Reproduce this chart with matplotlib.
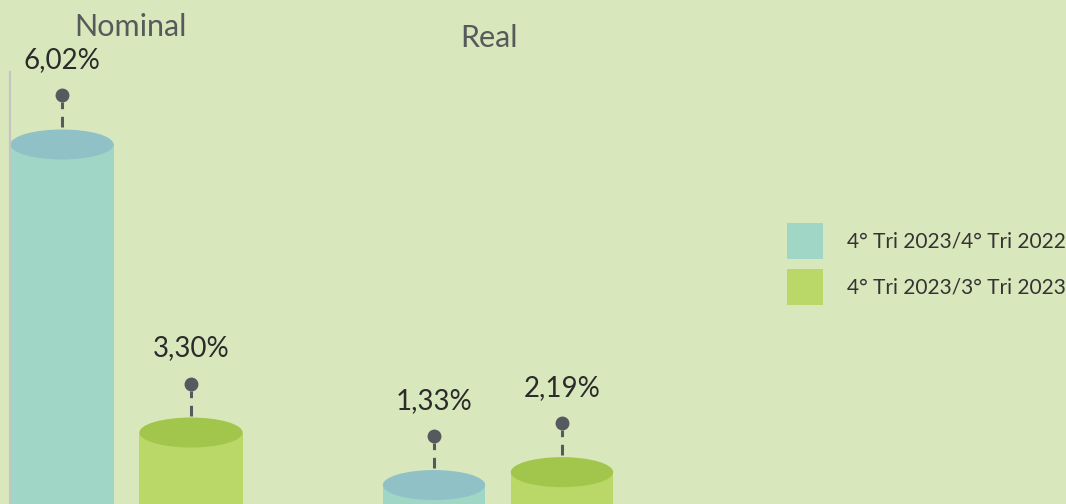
import matplotlib
matplotlib.use("Agg")
import matplotlib.pyplot as plt
from matplotlib.patches import Rectangle, Ellipse, Patch

groups = ["Nominal", "Real"]
series = ["4° Tri 2023/4° Tri 2022", "4° Tri 2023/3° Tri 2023"]
nominal = [6.02, 3.30]
real = [1.33, 2.19]
labels = [["6,02%", "3,30%"], ["1,33%", "2,19%"]]

body_colors = ["#9fd6c6", "#b9d867"]
top_colors = ["#8fc1c6", "#a2c64b"]
bg = "#d9e8bc"

W, H = 1066, 504
fig = plt.figure(figsize=(W / 100, H / 100), dpi=100, facecolor=bg)
plt.rcParams["font.family"] = ["Lato", "DejaVu Sans"]


def px_axes(x0, y0, x1, y1):
    # pixel box, y measured from the top of the figure
    ax = fig.add_axes([x0 / W, 1 - y1 / H, (x1 - x0) / W, (y1 - y0) / H])
    ax.set_facecolor("none")
    ax.axis("off")
    return ax


ax_nom = px_axes(-2.5, 782 - 7 * 105.9, 255.5, 782)
ax_nom.set_ylim(0, 7)
ax_real = px_axes(370, 505 - 30 * 15, 626, 505)
ax_real.set_ylim(0, 30)
axes = [ax_nom, ax_real]

bw = 0.8
for ax, vals, labs in zip(axes, [nominal, real], labels):
    ax.set_xlim(-0.5, 1.5)
    # data units per pixel on y
    bbox = ax.get_window_extent()
    ylo, yhi = ax.get_ylim()
    upp = (yhi - ylo) / bbox.height
    eh = 30 * upp
    for i, v in enumerate(vals):
        ax.add_patch(Rectangle((i - bw / 2, 0), bw, v, color=body_colors[i],
                               lw=0, clip_on=False))
        ax.add_patch(Ellipse((i, v), bw, eh, color=top_colors[i], lw=0,
                             clip_on=False))
        ax.plot([i, i], [v + 17 * upp, v + 42 * upp], ls=(0, (3.5, 2.5)),
                color="#555a5e", lw=2.2, clip_on=False)
        ax.plot(i, v + 49 * upp, "o", ms=9, color="#555a5e", clip_on=False)
        ax.text(i, v + 84 * upp, labs[i], ha="center", va="center",
                fontsize=20, color="#2b2b2b", clip_on=False)

# y axis line on the left of the nominal group
ax_nom.plot([-0.4, -0.4], [0, 6.7], color="#c4c4c4", lw=1.6, clip_on=False)

fig.text(130 / W, 1 - 27 / H, groups[0], ha="center", va="center",
         fontsize=22, color="#555a5a")
fig.text(489 / W, 1 - 38 / H, groups[1], ha="center", va="center",
         fontsize=22, color="#555a5a")

handles = [Patch(color=c, lw=0) for c in body_colors]
fig.legend(handles, series, loc="upper left",
           bbox_to_anchor=(787 / W, 1 - 223 / H), frameon=False,
           fontsize=15, handlelength=1.73, handleheight=2.29,
           labelspacing=0.48, handletextpad=1.15, borderpad=0,
           borderaxespad=0, labelcolor="#333333")

fig.savefig("out.png", dpi=100, facecolor=bg)
